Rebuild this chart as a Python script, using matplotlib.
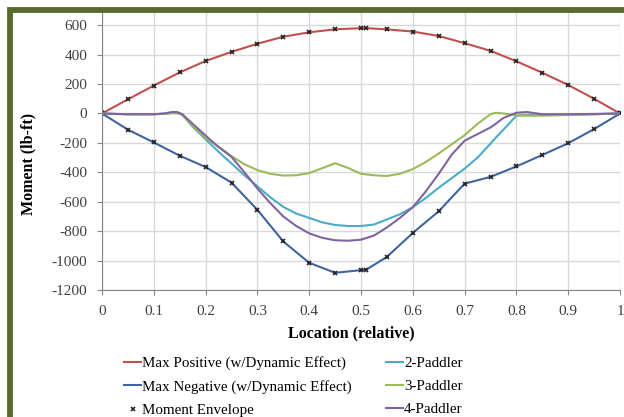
import matplotlib
matplotlib.use("Agg")
import matplotlib.pyplot as plt
from matplotlib.patches import Rectangle

plt.rcParams['font.family'] = ['Liberation Serif', 'DejaVu Serif']
plt.rcParams['axes.unicode_minus'] = False

# envelope points (x/L) - double point right at midspan
env_x = [0, 0.05, 0.1, 0.15, 0.2, 0.25, 0.3, 0.35, 0.4, 0.45, 0.5, 0.51,
         0.55, 0.6, 0.65, 0.7, 0.75, 0.8, 0.85, 0.9, 0.95, 1]
max_pos = [0, 96, 190, 279, 357, 419, 474, 522, 552, 572, 580, 580,
           572, 557, 527, 478, 426, 355, 277, 194, 100, 0]
max_neg = [0, -110, -197, -287, -364, -470, -655, -870, -1015, -1083, -1065, -1062,
           -975, -812, -665, -477, -431, -360, -282, -202, -106, 0]

# paddler load cases
pad_x = [0, 0.025, 0.05, 0.075, 0.1, 0.12, 0.135, 0.145, 0.155, 0.175, 0.2, 0.225,
         0.25, 0.275, 0.3, 0.325, 0.35, 0.375, 0.4, 0.425, 0.45, 0.475, 0.5, 0.525,
         0.55, 0.575, 0.6, 0.625, 0.65, 0.675, 0.7, 0.725, 0.75, 0.76, 0.775, 0.8,
         0.82, 0.85, 0.9, 0.95, 1]
paddler2 = [0, -3, -5, -5, -5, -2, 3, 2, -8, -90, -175, -260,
            -340, -420, -495, -570, -635, -680, -710, -740, -758, -765, -765, -755,
            -720, -685, -637, -575, -505, -440, -375, -300, -205, -165, -110, -15,
            -10, -10, -8, -5, 0]
paddler3 = [0, -3, -5, -5, -5, -2, 3, 2, -8, -85, -165, -225,
            -290, -345, -385, -410, -422, -420, -405, -372, -338, -370, -410, -420,
            -425, -410, -378, -330, -272, -210, -148, -70, -5, 5, 0, -12,
            -15, -15, -10, -5, 0]
paddler4 = [0, -3, -5, -5, -5, 0, 10, 10, -5, -70, -150, -228,
            -295, -400, -510, -610, -700, -765, -815, -845, -862, -865, -858, -830,
            -775, -710, -637, -530, -410, -280, -185, -140, -95, -70, -30, 5,
            10, -5, -5, -3, 0]

x_ticks = [0, 0.1, 0.2, 0.3, 0.4, 0.5, 0.6, 0.7, 0.8, 0.9, 1]
y_ticks = [-1200, -1000, -800, -600, -400, -200, 0, 200, 400, 600]

fig = plt.figure(figsize=(6.24, 4.17), dpi=100)
ax = fig.add_axes([102 / 624, 1 - 290 / 417, 518 / 624, (290 - 12) / 417])

ax.plot(env_x, max_pos, color='#C0504D', lw=1.5, label='Max Positive (w/Dynamic Effect)')
ax.plot(env_x, max_neg, color='#3F64A0', lw=1.5, label='Max Negative (w/Dynamic Effect)')
ax.plot(env_x + env_x, max_pos + max_neg, ls='none', marker='x', ms=3.5, mew=1.2,
        color='#222222', label='Moment Envelope')
ax.plot(pad_x, paddler2, color='#4BACC6', lw=1.5, label='2-Paddler')
ax.plot(pad_x, paddler3, color='#9BBB59', lw=1.5, label='3-Paddler')
ax.plot(pad_x, paddler4, color='#8064A2', lw=1.5, label='4-Paddler')

ax.set_xlim(0, 1)
ax.set_ylim(-1200, 690)
ax.set_xticks(x_ticks)
ax.set_xticklabels([f"{t:g}" for t in x_ticks])
ax.set_yticks(y_ticks)
ax.grid(True, color='#D9D9D9', lw=1)
ax.set_axisbelow(True)
for s in ['top', 'right']:
    ax.spines[s].set_visible(False)
for s in ['left', 'bottom']:
    ax.spines[s].set_color('#868686')
ax.tick_params(colors='#868686', labelcolor='#404040', labelsize=11, length=3.5, pad=7)

fig.text(351 / 624, 1 - 333 / 417, 'Location (relative)', ha='center', va='center',
         fontsize=11.5, fontweight='bold')
fig.text(28 / 624, 1 - 164 / 417, 'Moment (lb-ft)', ha='center', va='center',
         rotation=90, fontsize=11.5, fontweight='bold')

fig.legend(loc='upper left', bbox_to_anchor=(124 / 624, 1 - 356 / 417), ncol=2,
           frameon=False, fontsize=10.8, handlelength=1.15, handletextpad=0.05,
           columnspacing=2.3, labelspacing=0.65, borderaxespad=0, borderpad=0)

# olive frame around the chart (cut off on the right and bottom)
fig.patches.append(Rectangle((10 / 624, -0.2), 1.5, 1.2 - 9.7 / 417, transform=fig.transFigure,
                             fill=False, edgecolor='#596B2C', lw=4.2))

fig.savefig('out.png', dpi=100)
